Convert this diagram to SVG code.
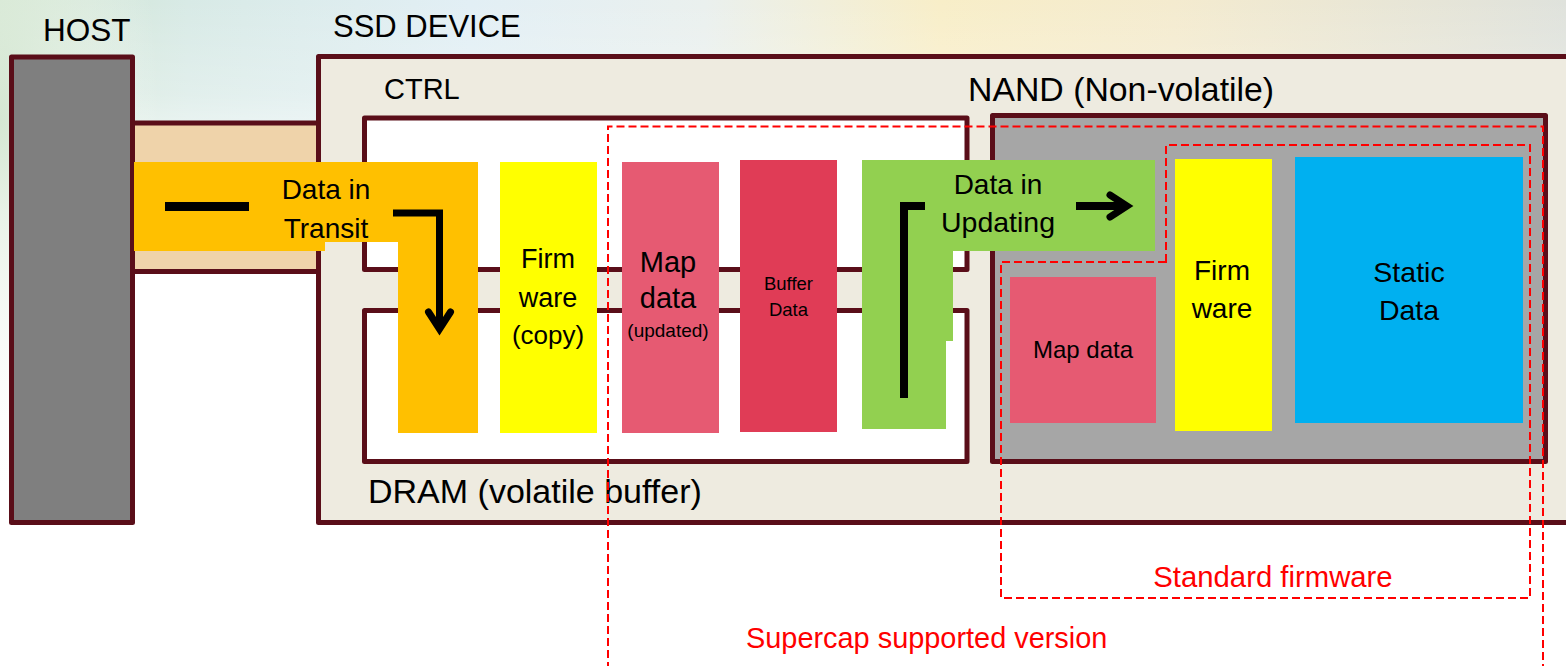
<svg xmlns="http://www.w3.org/2000/svg" width="1566" height="666" viewBox="0 0 1566 666">
  <defs>
    <linearGradient id="sky" x1="0" y1="0" x2="1" y2="0">
      <stop offset="0" stop-color="#cfe4cc"/>
      <stop offset="0.12" stop-color="#d8eae6"/>
      <stop offset="0.3" stop-color="#e2eff5"/>
      <stop offset="0.45" stop-color="#eaf0ee"/>
      <stop offset="0.6" stop-color="#f8eec8"/>
      <stop offset="0.75" stop-color="#f4ebcf"/>
      <stop offset="1" stop-color="#dfe2dc"/>
    </linearGradient>
    <linearGradient id="fade" x1="0" y1="0" x2="0" y2="1">
      <stop offset="0" stop-color="#ffffff" stop-opacity="0"/>
      <stop offset="0.45" stop-color="#ffffff" stop-opacity="0.25"/>
      <stop offset="1" stop-color="#ffffff" stop-opacity="1"/>
    </linearGradient>
    <radialGradient id="glow" cx="0" cy="120" r="320" gradientUnits="userSpaceOnUse" gradientTransform="translate(0,120) scale(0.5,1.2) translate(0,-120)">
      <stop offset="0" stop-color="#d3e6d1" stop-opacity="0.9"/>
      <stop offset="1" stop-color="#ffffff" stop-opacity="0"/>
    </radialGradient>
    <marker id="open-head" viewBox="0 0 30 30" markerWidth="30" markerHeight="30" markerUnits="userSpaceOnUse" refX="22" refY="15" orient="auto" overflow="visible">
      <path d="M5,4 L22,15 L5,26" fill="none" stroke="#000" stroke-width="7" stroke-linecap="round" stroke-linejoin="miter"/>
    </marker>
    <style>
      .frame { stroke: #5a0e19; stroke-width: 5; stroke-linejoin: round; }
      .lbl { font-family: "Liberation Sans", Arial, sans-serif; fill: #000; }
      .mid { text-anchor: middle; }
      .red { fill: #ff0000; }
      .zone { fill: none; stroke: #ff0000; stroke-width: 2; stroke-dasharray: 8 4; }
      .flow { fill: none; stroke: #000; stroke-linejoin: miter; }
    </style>
  </defs>

  <!-- page background with soft tinted header -->
  <rect x="0" y="0" width="1566" height="666" fill="#ffffff"/>
  <rect x="0" y="0" width="1566" height="210" fill="url(#sky)"/>
  <rect x="0" y="0" width="1566" height="210" fill="url(#fade)"/>
  <rect x="0" y="0" width="320" height="520" fill="url(#glow)"/>

  <!-- host bus -->
  <g id="host-link">
    <rect class="frame" x="132.5" y="123" width="186" height="148.5" fill="#efd3aa"/>
  </g>

  <!-- host -->
  <g id="host">
    <rect class="frame" x="11.5" y="57" width="121" height="465.5" fill="#7f7f7f"/>
    <text class="lbl" x="43" y="41" font-size="31.5">HOST</text>
  </g>

  <!-- SSD enclosure -->
  <g id="ssd-device">
    <rect class="frame" x="318.5" y="56.5" width="1300" height="466" fill="#eeebe0"/>
    <text class="lbl" x="333" y="37" font-size="31">SSD DEVICE</text>
  </g>

  <!-- controller -->
  <g id="ctrl">
    <rect class="frame" x="364.5" y="118" width="602.5" height="151.5" fill="#ffffff"/>
    <text class="lbl" x="384" y="99" font-size="29">CTRL</text>
  </g>

  <!-- DRAM -->
  <g id="dram">
    <rect class="frame" x="364.5" y="310.5" width="602.5" height="151" fill="#ffffff"/>
    <text class="lbl" x="368" y="503" font-size="34">DRAM (volatile buffer)</text>
  </g>

  <!-- NAND -->
  <g id="nand">
    <rect class="frame" x="992.5" y="115.5" width="553" height="346" fill="#a6a6a6"/>
    <text class="lbl" x="968" y="101" font-size="33.8">NAND (Non-volatile)</text>
  </g>

  <!-- data in transit -->
  <g id="data-in-transit">
    <polygon points="134,162 478,162 478,433 398,433 398,242 325,242 325,251 134,251" fill="#ffc000"/>
    <text class="lbl mid" x="326" y="199" font-size="28">Data in</text>
    <text class="lbl mid" x="326" y="238" font-size="28">Transit</text>
  </g>

  <!-- firmware copy in DRAM -->
  <g id="firmware-copy">
    <rect x="500" y="162" width="97" height="271" fill="#ffff00"/>
    <text class="lbl mid" x="548" y="268" font-size="27">Firm</text>
    <text class="lbl mid" x="548" y="307" font-size="27">ware</text>
    <text class="lbl mid" x="548" y="344" font-size="26">(copy)</text>
  </g>

  <!-- map data (updated) -->
  <g id="map-data-updated">
    <rect x="622" y="162" width="97" height="271" fill="#e65a72"/>
    <text class="lbl mid" x="668" y="272" font-size="29">Map</text>
    <text class="lbl mid" x="668" y="308" font-size="29">data</text>
    <text class="lbl mid" x="668" y="337" font-size="19">(updated)</text>
  </g>

  <!-- buffer data -->
  <g id="buffer-data">
    <rect x="740" y="160" width="97" height="272" fill="#e03c56"/>
    <text class="lbl mid" x="788.5" y="290" font-size="18.5">Buffer</text>
    <text class="lbl mid" x="788.5" y="316" font-size="18.5">Data</text>
  </g>

  <!-- data in updating -->
  <g id="data-in-updating">
    <polygon points="862,160 1155,160 1155,251 953,251 953,341 946,341 946,429 862,429" fill="#92d050"/>
    <text class="lbl mid" x="998" y="194" font-size="28">Data in</text>
    <text class="lbl mid" x="998" y="232" font-size="28.5">Updating</text>
  </g>

  <!-- NAND contents -->
  <g id="nand-map-data">
    <rect x="1010" y="277" width="146" height="146" fill="#e65a72"/>
    <text class="lbl mid" x="1083" y="358" font-size="24">Map data</text>
  </g>
  <g id="nand-firmware">
    <rect x="1175" y="159" width="97" height="272" fill="#ffff00"/>
    <text class="lbl mid" x="1222" y="280" font-size="28">Firm</text>
    <text class="lbl mid" x="1222" y="318" font-size="28">ware</text>
  </g>
  <g id="static-data">
    <rect x="1295" y="157" width="228" height="266" fill="#00b0f0"/>
    <text class="lbl mid" x="1409" y="282" font-size="28.5">Static</text>
    <text class="lbl mid" x="1409" y="320" font-size="28.5">Data</text>
  </g>

  <!-- flow marks -->
  <g id="connectors">
    <line class="flow" x1="165" y1="206.5" x2="249" y2="206.5" stroke-width="9"/>
    <polyline class="flow" points="393,213 439.5,213 439.5,329" stroke-width="7" marker-end="url(#open-head)"/>
    <polyline class="flow" points="904,398 904,206 925,206" stroke-width="8"/>
    <line class="flow" x1="1076" y1="206" x2="1127" y2="206" stroke-width="8" marker-end="url(#open-head)"/>
  </g>

  <!-- protection scopes -->
  <g id="standard-firmware">
    <path class="zone" d="M1166,262 V145 H1530 V598 H1001 V262 Z"/>
    <text class="lbl red mid" x="1273" y="587" font-size="29.3">Standard firmware</text>
  </g>
  <g id="supercap-version">
    <path class="zone" d="M608,670 V126.5 H1543 V670"/>
    <text class="lbl red" x="746" y="648" font-size="28.9">Supercap supported version</text>
  </g>
</svg>
